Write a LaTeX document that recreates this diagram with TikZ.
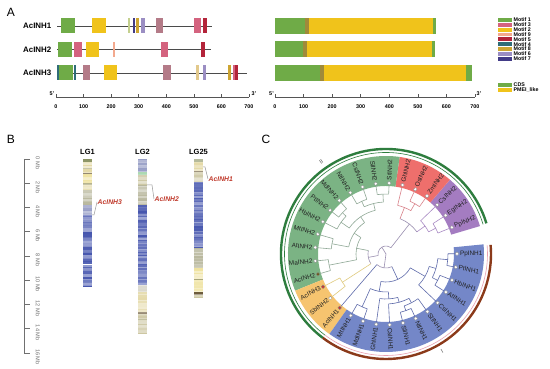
\documentclass[tikz,border=0pt]{standalone}
\usepackage{fontspec}
\setmainfont{Liberation Sans}
\usepackage{xcolor}
\usepackage{tikz}
\definecolor{MotGreen}{HTML}{6FAB47}
\definecolor{MotRose}{HTML}{D4637F}
\definecolor{MotYellow}{HTML}{F0C31B}
\definecolor{MotSalmon}{HTML}{F3A98E}
\definecolor{MotRed}{HTML}{B3243A}
\definecolor{MotTeal}{HTML}{2F6C78}
\definecolor{MotGold}{HTML}{CDA532}
\definecolor{MotLav}{HTML}{9B8EC3}
\definecolor{MotNavy}{HTML}{423B87}
\definecolor{MotMauve}{HTML}{B47B88}
\definecolor{MotPale}{HTML}{C4D08E}
\definecolor{MotTan}{HTML}{E2C98C}
\definecolor{DomOlive}{HTML}{A08A3A}
\definecolor{GeneLine}{HTML}{4B4B4B}
\definecolor{AxisGray}{HTML}{555555}
\definecolor{RulerGray}{HTML}{707070}
\definecolor{ChBlue}{HTML}{4656AE}
\definecolor{ChGrayBl}{HTML}{8A92BF}
\definecolor{ChTan}{HTML}{E4D9A6}
\definecolor{ChYel}{HTML}{EFE29E}
\definecolor{ChOlive}{HTML}{6F7A3E}
\definecolor{ChOlv}{HTML}{9E9A68}
\definecolor{ChBrown}{HTML}{5E4B28}
\definecolor{ChGrayOl}{HTML}{B7B69B}
\definecolor{ChMint}{HTML}{9FD3A6}
\definecolor{ChTanGr}{HTML}{CDC7A2}
\definecolor{ChLight}{HTML}{DAD8CC}
\definecolor{MarkRed}{HTML}{C0392B}
\definecolor{MarkLine}{HTML}{9A9A9A}
\definecolor{CPurple}{HTML}{A47CC1}
\definecolor{CRed}{HTML}{EE6F6C}
\definecolor{CGreen}{HTML}{7BB384}
\definecolor{CYellow}{HTML}{F6C46F}
\definecolor{CBlue}{HTML}{7487C8}
\definecolor{CladeII}{HTML}{2E7D3E}
\definecolor{CladeI}{HTML}{8B3A1A}
\definecolor{CladeIpink}{HTML}{E8A0B0}
\definecolor{TPur}{HTML}{A98BC4}
\definecolor{TRed}{HTML}{D9828A}
\definecolor{TGrn}{HTML}{8FA896}
\definecolor{TYel}{HTML}{E0CB7E}
\definecolor{TBlu}{HTML}{5E6BAA}
\definecolor{TBack}{HTML}{9A8FB0}
\definecolor{DotRed}{HTML}{C8372D}
\definecolor{DotOlive}{HTML}{6B5B1F}
\definecolor{DotRim}{HTML}{8A8A8A}
\definecolor{LeafText}{HTML}{222222}

\begin{document}
\begin{tikzpicture}[x=1pt,y=1pt,
  panel/.style={font=\fontsize{12}{12}\selectfont,inner sep=0pt},
  genelbl/.style={font=\fontsize{7.9}{8}\selectfont\bfseries,anchor=west,inner sep=0pt},
  ticklbl/.style={font=\fontsize{5.4}{5.4}\selectfont\bfseries,inner sep=0pt},
  leglbl/.style={font=\fontsize{5.3}{5.3}\selectfont\bfseries,anchor=west,inner sep=0pt},
  lglbl/.style={font=\fontsize{7.5}{7.5}\selectfont\bfseries,inner sep=0pt},
  mblbl/.style={font=\fontsize{5.6}{5.6}\selectfont,text=RulerGray,rotate=-90,inner sep=0pt},
  marklbl/.style={font=\fontsize{6.8}{6.8}\selectfont\bfseries\itshape,text=MarkRed,anchor=west,inner sep=.5pt},
  leaflbl/.style={font=\fontsize{6.4}{6.4}\selectfont,text=LeafText,inner sep=0pt},
  tline/.style={line width=.6pt}]
\path[use as bounding box] (0,0) rectangle (550,369);
\fill[white] (0,0) rectangle (550,369);

\node[panel] (pA) at (11,357) {A};
\node[genelbl] (gene1) at (23,343) {AcINH1};
\node[genelbl] (gene2) at (23,319.5) {AcINH2};
\node[genelbl] (gene3) at (23,296) {AcINH3};
\draw[GeneLine,line width=.8pt] (57,343) -- (212,343);
\draw[GeneLine,line width=.8pt] (57,319.5) -- (211,319.5);
\draw[GeneLine,line width=.8pt] (57,296) -- (247,296);
\foreach \y/\a/\b/\c in {343/61/75/MotGreen, 343/92/106/MotYellow, 343/127.5/129.5/MotPale,
  343/132.5/134.5/MotNavy, 343/136/138.5/MotGold, 343/141/144.5/MotLav, 343/156/163/MotMauve,
  343/193.5/200.5/MotRose, 343/203/206.5/MotRed,
  319.5/58/72/MotGreen, 319.5/74/82/MotRose, 319.5/86/99/MotYellow, 319.5/112.7/115/MotSalmon,
  319.5/161/168/MotRose, 319.5/201/204.5/MotRed,
  296/57/58.5/MotTeal, 296/59/73/MotGreen, 296/74/75.5/MotTeal, 296/83/90/MotMauve,
  296/104/117/MotYellow, 296/163/171/MotMauve, 296/196/198.5/MotTan, 296/203/206/MotLav,
  296/228/230.5/MotGold, 296/233/235/MotRose, 296/235/238/MotRed}
  \fill[\c] (\a,\y-7.5) rectangle (\b,\y+7.5);

\foreach \y/\g/\o/\e/\f in {335/305/309/433/436, 311.5/303/307/432/435, 288/320/324/466/472} {
  \fill[MotGreen] (275,\y) rectangle (\g,\y+16);
  \fill[DomOlive] (\g,\y) rectangle (\o,\y+16);
  \fill[MotYellow] (\o,\y) rectangle (\e,\y+16);
  \fill[MotGreen] (\e,\y) rectangle (\f,\y+16);
}

\draw[AxisGray,line width=.5pt] (56,272) -- (249,272);
\draw[AxisGray,line width=.5pt] (275,272) -- (475,272);
\foreach \k/\v in {0/0,1/100,2/200,3/300,4/400,5/500,6/600,7/700} {
  \draw[AxisGray,line width=.5pt] (56+\k*27.57,272) -- ++(0,2.5);
  \node[ticklbl] at (56+\k*27.57,262.5) {\v};
  \draw[AxisGray,line width=.5pt] (275+\k*28.57,272) -- ++(0,2.5);
  \node[ticklbl] at (275+\k*28.57,262.5) {\v};
}
\node[ticklbl] at (52,275) {5'};
\node[ticklbl] at (254,275) {3'};
\node[ticklbl] at (271.5,275) {5'};
\node[ticklbl] at (479,275) {3'};

\foreach \k/\c/\t in {0/MotGreen/Motif 1, 1/MotRose/Motif 3, 2/MotYellow/Motif 2, 3/MotSalmon/Motif 9,
  4/MotRed/Motif 5, 5/MotTeal/Motif 4, 6/MotGold/Motif 8, 7/MotLav/Motif 6, 8/MotNavy/Motif 7} {
  \fill[\c] (498,349-\k*4.85-1.9) rectangle (512,349-\k*4.85+1.9);
  \node[leglbl] at (513.5,349-\k*4.85) {\t};
}
\fill[MotGreen] (498,282.1) rectangle (512,285.9);
\node[leglbl] at (513.5,284) {CDS};
\fill[MotYellow] (498,277.1) rectangle (512,280.9);
\node[leglbl] at (513.5,279) {PMEI\_like};

\node[panel] (pB) at (11,230) {B};
\draw[RulerGray,line width=.6pt] (24,210) -- (24,16);
\foreach \m in {0,2,...,16} {
  \draw[RulerGray,line width=.6pt] (24,210-\m*12.125) -- ++(6,0);
  \node[mblbl] at (38,206-\m*12.125) {\m\ Mb};
}
\foreach \a/\b/\c in {0/3/ChOlive, 3/9/ChTan, 9/10/ChOlv, 10/14/ChTan, 14/15/ChBrown, 15/24/ChYel,
  24/26/ChOlv, 26/31/ChTan, 31/46/ChGrayOl, 46/56/ChGrayBl, 56/128/ChBlue}
  \fill[\c] (83,210-\a) rectangle (92,210-\b);
\foreach \a/\b/\c in {0/13/ChGrayBl, 13/16/ChMint, 16/26/ChTanGr, 26/46/ChGrayOl, 46/126/ChBlue,
  126/133/ChLight, 133/153/ChTan, 153/155/ChBrown, 155/160/ChTanGr, 160/161/ChOlv, 161/175/ChTanGr}
  \fill[\c] (138,210-\a) rectangle (147,210-\b);
\foreach \a/\b/\c in {0/3/ChOlive, 3/12/ChTan, 12/13/ChBrown, 13/23/ChTanGr, 23/89/ChBlue,
  89/109/ChGrayOl, 109/120/ChYel, 120/121/ChOlv, 121/133/ChYel, 133/136/ChBrown, 136/139/ChTanGr}
  \fill[\c] (194,210-\a) rectangle (203,210-\b);
\pgfmathsetseed{12}
\foreach \x/\n in {83/84, 138/115, 194/91} {
  \foreach \k in {0,...,\n} {
    \pgfmathsetmacro\o{0.5*rnd}
    \fill[white,fill opacity=\o] (\x,210-\k*1.5) rectangle (\x+9,208.5-\k*1.5);
  }
}
\fill[white] (83,104) rectangle (92,105.2);
\node[lglbl] (lg1) at (87.5,217) {LG1};
\node[lglbl] (lg2) at (142.5,217) {LG2};
\node[lglbl] (lg25) at (198.5,217) {LG25};
\coordinate (m3) at (92,154);
\coordinate (m2) at (147,184);
\coordinate (m1) at (203,202);
\node[marklbl] (mk3) at (97,167) {AcINH3};
\node[marklbl] (mk2) at (154,170) {AcINH2};
\node[marklbl] (mk1) at (208,190) {AcINH1};
\draw[MarkLine,line width=.5pt] (m3) -- ++(2,0) -- (mk3.west);
\draw[MarkLine,line width=.5pt] (m2) -- ++(5,0) -- (mk2.west);
\draw[MarkLine,line width=.5pt] (m1) -- ++(2,0) -- (mk1.west);

\node[panel] (pC) at (266,230) {C};
\begin{scope}[shift={(386,115)}]
\foreach \a/\b/\c in {16.55/49.28/CPurple, 49.28/82.01/CRed, 82.01/202.01/CGreen,
  202.01/234.74/CYellow, 234.74/365.66/CBlue}
  \fill[\c] (\a:68) arc[start angle=\a,end angle=\b,radius=68] -- (\b:98)
    arc[start angle=\b,end angle=\a,radius=98] -- cycle;
\draw[CladeII,line width=2.4pt] (17:105) arc[start angle=17,end angle=233,radius=105];
\draw[CladeII,line width=.6pt] (17:101.5) arc[start angle=17,end angle=233,radius=101.5];
\draw[CladeI,line width=2.4pt] (233:105) arc[start angle=233,end angle=365,radius=105];
\draw[CladeIpink,line width=.6pt] (233:101.5) arc[start angle=233,end angle=365,radius=101.5];
\node[font=\fontsize{6}{6}\selectfont,text=AxisGray,rotate=35] (cII) at (125:113) {II};
\node[font=\fontsize{6}{6}\selectfont,text=AxisGray,rotate=30] (cI) at (300:112) {I};
\foreach \a/\b/\r/\c in {22/32.91/56/TPur, 27.45/43.82/48/TPur, 54.73/65.64/58/TRed,
  60.19/76.55/50/TRed, 35.64/68.37/38/TBack,
  87.46/98.37/60/TGrn, 109.28/120.19/58/TGrn, 92.92/114.74/52/TGrn, 131.1/142.01/60/TGrn,
  136.56/152.92/55/TGrn, 103.83/144.74/45/TGrn, 163.83/174.74/55/TGrn, 124.29/169.29/38/TGrn,
  185.65/196.56/58/TGrn, 146.79/191.1/30/TGrn,
  207.47/218.38/52/TYel, 168.95/212.93/18/TBack, 52/190.94/8/TBack,
  240.2/251.11/58/TBlu, 283.84/294.75/60/TBlu, 289.3/305.66/55/TBlu, 272.93/297.48/50/TBlu,
  262.02/285.2/45/TBlu, 245.66/273.61/38/TBlu, 327.48/338.39/58/TBlu, 349.3/360.21/62/TBlu,
  332.94/354.76/52/TBlu, 316.57/343.85/45/TBlu, 259.63/330.21/28/TBlu, 229.29/294.92/14/TBack}
  \draw[\c,tline] (\a:\r) arc[start angle=\a,end angle=\b,radius=\r];
\foreach \a/\p/\q/\c in {27.45/48/56/TPur, 60.19/50/58/TRed, 35.64/38/48/TPur, 68.37/38/50/TRed,
  92.92/52/60/TGrn, 114.74/52/58/TGrn, 136.56/55/60/TGrn, 103.83/45/52/TGrn, 144.74/45/55/TGrn,
  124.29/38/45/TGrn, 169.29/38/55/TGrn, 146.79/30/38/TGrn, 191.1/30/58/TGrn, 168.95/18/30/TGrn,
  212.93/18/52/TYel, 52/8/38/TBack, 190.94/8/18/TBack,
  289.3/55/60/TBlu, 297.48/50/55/TBlu, 285.2/45/50/TBlu, 245.66/38/58/TBlu, 273.61/38/45/TBlu,
  332.94/52/58/TBlu, 354.76/52/62/TBlu, 343.85/45/52/TBlu, 259.63/28/38/TBlu, 330.21/28/45/TBlu,
  294.92/14/28/TBlu, 121.47/0/8/TBack, 262.1/0/14/TBack}
  \draw[\c,tline] (\a:\p) -- (\a:\q);
\foreach \i/\nm/\pr/\dc/\lc in {0/PpINH2/56/white/TPur, 1/EgINH2/56/white/TPur, 2/CsINH2/48/white/TPur,
  3/ZmINH2/58/white/TRed, 4/OsINH2/58/white/TRed, 5/GhINH2/50/white/TRed,
  6/StINH2/60/white/TGrn, 7/SlINH2/60/white/TGrn, 8/CsINH2/58/white/TGrn, 9/NtINH2/58/white/TGrn,
  10/MdINH2/60/white/TGrn, 11/PtINH2/60/white/TGrn, 12/HbINH2/55/white/TGrn, 13/MtINH2/55/white/TGrn,
  14/AtINH2/55/white/TGrn, 15/MaINH2/58/white/TGrn, 16/AcINH2/58/DotOlive/TGrn,
  17/AcINH3/52/DotRed/TYel, 18/SbINH2/52/white/TYel, 19/AcINH1/14/DotRed/TBlu,
  20/MtINH1/58/white/TBlu, 21/MdINH1/58/white/TBlu, 22/GhINH1/45/white/TBlu, 23/CsINH1/50/white/TBlu,
  24/SlINH1/60/white/TBlu, 25/NtINH1/60/white/TBlu, 26/StINH1/55/white/TBlu, 27/CsINH1/45/white/TBlu,
  28/AtINH1/58/white/TBlu, 29/HbINH1/58/white/TBlu, 30/PtINH1/62/white/TBlu, 31/PpINH1/62/white/TBlu} {
  \pgfmathsetmacro\t{22+\i*10.91}
  \pgfmathtruncatemacro\fl{(\t>90)&&(\t<270)}
  \draw[\lc,tline] (\t:\pr) -- (\t:69.2);
  \filldraw[fill=\dc,draw=DotRim,line width=.3pt] (\t:71) circle (1.8);
  \ifnum\fl=1
    \node[leaflbl,anchor=east,rotate=\t-180] (l\i) at (\t:73.8) {\nm};
  \else
    \node[leaflbl,anchor=west,rotate=\t] (l\i) at (\t:73.8) {\nm};
  \fi
}
\end{scope}
\end{tikzpicture}
\end{document}
